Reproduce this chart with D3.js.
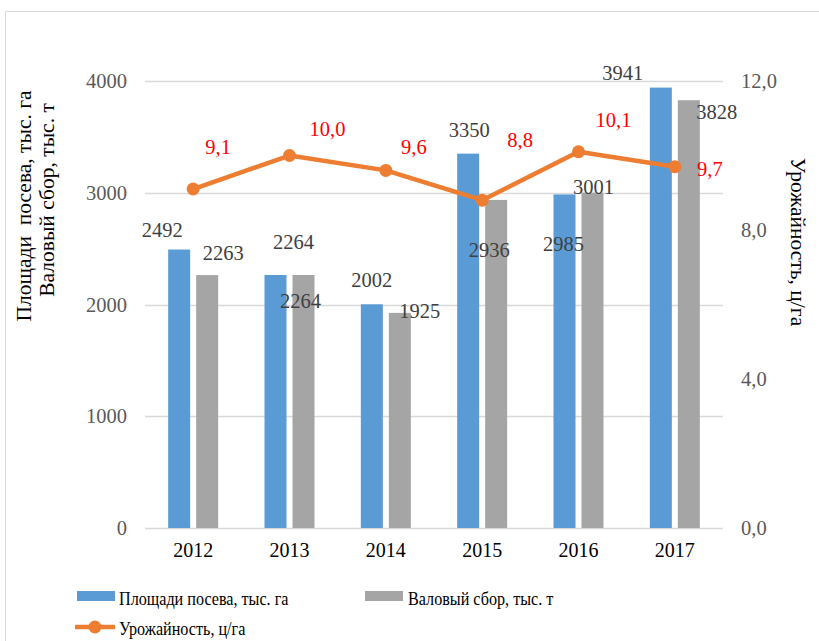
<!DOCTYPE html>
<html>
<head>
<meta charset="utf-8">
<script src="https://cdn.jsdelivr.net/npm/d3@7"></script>
<style>
  body { margin: 0; background: #fff; }
  text { font-family: "Liberation Serif", "Times New Roman", serif; }
</style>
</head>
<body>
<div id="chart"></div>
<script>
// data
const years = ["2012", "2013", "2014", "2015", "2016", "2017"];
const area = [2492, 2264, 2002, 3350, 2985, 3941];     // Площади посева, тыс. га
const harvest = [2263, 2264, 1925, 2936, 3001, 3828];  // Валовый сбор, тыс. т
const yieldVals = [9.1, 10.0, 9.6, 8.8, 10.1, 9.7];    // Урожайность, ц/га
const leftTicks = [0, 1000, 2000, 3000, 4000];
const rightTicks = [0, 4, 8, 12];

// label nudges (px), the original has hand-placed labels
const areaLabelOff = [[-17, -20], [18, -33], [0, -24], [1, -24], [-1, 50], [-38, -15]];
const harvLabelOff = [[16, -22], [-3, 26], [20, -2], [-7, 50], [1, -6], [28, 12]];
const yieldLabelOff = [[25, -42], [38, -27], [28, -23], [38, -60], [35, -32], [35, 2]];

const W = 819, H = 641;
const blue = "#5B9BD5", gray = "#A5A5A5", orange = "#ED7D31";

const svg = d3.select("#chart").append("svg")
  .attr("width", W).attr("height", H);

// outer frame
svg.append("rect")
  .attr("x", 5.5).attr("y", 11.5)
  .attr("width", 900).attr("height", 700)
  .attr("fill", "none").attr("stroke", "#d9d9d9");

const x = d3.scaleBand().domain(years).range([145, 723]);
const x1 = d3.scaleBand().domain(["a", "h"]).range([0, 50]).paddingInner(0.214);
const yL = d3.scaleLinear().domain([0, 4000]).range([528, 81]);
const yR = d3.scaleLinear().domain([0, 12]).range([528, 81]);
const groupOff = (x.bandwidth() - 50) / 2;

// gridlines
svg.append("g").selectAll("line")
  .data(leftTicks)
  .join("line")
  .attr("x1", 145).attr("x2", 723)
  .attr("y1", d => Math.round(yL(d)) + 0.5)
  .attr("y2", d => Math.round(yL(d)) + 0.5)
  .attr("stroke", "#d9d9d9").attr("stroke-width", 1.3);

// left axis labels
svg.append("g").selectAll("text")
  .data(leftTicks)
  .join("text")
  .attr("x", 127).attr("y", d => yL(d) + 7)
  .attr("text-anchor", "end")
  .attr("font-size", 20.5).attr("fill", "#595959")
  .text(d => d);

// right axis labels
svg.append("g").selectAll("text")
  .data(rightTicks)
  .join("text")
  .attr("x", 741).attr("y", d => yR(d) + 7)
  .attr("font-size", 20.5).attr("fill", "#595959")
  .text(d => d.toFixed(1).replace(".", ","));

// x labels
svg.append("g").selectAll("text")
  .data(years)
  .join("text")
  .attr("x", d => x(d) + x.bandwidth() / 2)
  .attr("y", 557)
  .attr("text-anchor", "middle")
  .attr("font-size", 20).attr("fill", "#000")
  .text(d => d);

// bars
const bx = (i, k) => x(years[i]) + groupOff + x1(k);
svg.append("g").selectAll("rect")
  .data(area)
  .join("rect")
  .attr("x", (d, i) => bx(i, "a"))
  .attr("y", d => yL(d))
  .attr("width", x1.bandwidth())
  .attr("height", d => yL(0) - yL(d))
  .attr("fill", blue);

svg.append("g").selectAll("rect")
  .data(harvest)
  .join("rect")
  .attr("x", (d, i) => bx(i, "h"))
  .attr("y", d => yL(d))
  .attr("width", x1.bandwidth())
  .attr("height", d => yL(0) - yL(d))
  .attr("fill", gray);

// bar labels
svg.append("g").selectAll("text")
  .data(area)
  .join("text")
  .attr("x", (d, i) => bx(i, "a") + x1.bandwidth() / 2 + areaLabelOff[i][0])
  .attr("y", (d, i) => yL(d) + areaLabelOff[i][1] + 7)
  .attr("text-anchor", "middle")
  .attr("font-size", 20.5).attr("fill", "#404040")
  .text(d => d);

svg.append("g").selectAll("text")
  .data(harvest)
  .join("text")
  .attr("x", (d, i) => bx(i, "h") + x1.bandwidth() / 2 + harvLabelOff[i][0])
  .attr("y", (d, i) => yL(d) + harvLabelOff[i][1] + 7)
  .attr("text-anchor", "middle")
  .attr("font-size", 20.5).attr("fill", "#404040")
  .text(d => d);

// yield line
const cx = i => x(years[i]) + x.bandwidth() / 2;
const line = d3.line()
  .x((d, i) => cx(i))
  .y(d => yR(d));

svg.append("path")
  .datum(yieldVals)
  .attr("d", line)
  .attr("fill", "none")
  .attr("stroke", orange)
  .attr("stroke-width", 4.5)
  .attr("stroke-linejoin", "round");

svg.append("g").selectAll("circle")
  .data(yieldVals)
  .join("circle")
  .attr("cx", (d, i) => cx(i))
  .attr("cy", d => yR(d))
  .attr("r", 6.5)
  .attr("fill", orange);

svg.append("g").selectAll("text")
  .data(yieldVals)
  .join("text")
  .attr("x", (d, i) => cx(i) + yieldLabelOff[i][0])
  .attr("y", (d, i) => yR(d) + yieldLabelOff[i][1] + 7)
  .attr("text-anchor", "middle")
  .attr("font-size", 20.5).attr("fill", "#FF0000")
  .text(d => d.toFixed(1).replace(".", ","));

// axis titles
svg.append("text")
  .attr("transform", "translate(31,206) rotate(-90)")
  .attr("text-anchor", "middle")
  .attr("font-size", 21.5).attr("fill", "#000")
  .attr("xml:space", "preserve")
  .text("Площади  посева, тыс. га");

svg.append("text")
  .attr("transform", "translate(54,200) rotate(-90)")
  .attr("text-anchor", "middle")
  .attr("font-size", 21.5).attr("fill", "#000")
  .text("Валовый сбор, тыс. т");

svg.append("text")
  .attr("transform", "translate(791,242) rotate(90)")
  .attr("text-anchor", "middle")
  .attr("font-size", 21.5).attr("fill", "#000")
  .text("Урожайность, ц/га");

// legend
const legend = svg.append("g");
legend.append("rect")
  .attr("x", 77).attr("y", 591).attr("width", 38).attr("height", 10)
  .attr("fill", blue);
legend.append("text")
  .attr("transform", "translate(119,605) scale(0.85,1)")
  .attr("font-size", 19).attr("fill", "#000")
  .text("Площади посева, тыс. га");

legend.append("rect")
  .attr("x", 365).attr("y", 591).attr("width", 38).attr("height", 10)
  .attr("fill", gray);
legend.append("text")
  .attr("transform", "translate(408,605) scale(0.85,1)")
  .attr("font-size", 19).attr("fill", "#000")
  .text("Валовый сбор, тыс. т");

legend.append("line")
  .attr("x1", 75).attr("x2", 115).attr("y1", 627).attr("y2", 627)
  .attr("stroke", orange).attr("stroke-width", 4.5);
legend.append("circle")
  .attr("cx", 95).attr("cy", 627).attr("r", 6.5)
  .attr("fill", orange);
legend.append("text")
  .attr("transform", "translate(119,635) scale(0.85,1)")
  .attr("font-size", 19).attr("fill", "#000")
  .text("Урожайность, ц/га");
</script>
</body>
</html>
